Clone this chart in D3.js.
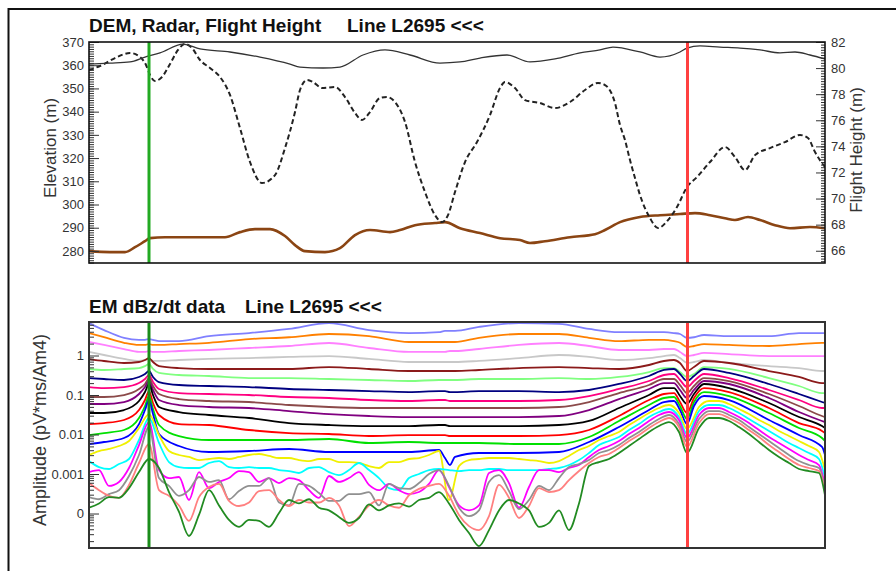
<!DOCTYPE html>
<html>
<head>
<meta charset="utf-8">
<script src="https://cdn.jsdelivr.net/npm/d3@7"></script>
<style>
  body { margin: 0; background: #fff; }
  svg { display: block; font-family: Arial, "Liberation Sans", sans-serif; }
</style>
</head>
<body>
<script>
// ---- Top panel data (fiducial along line, value) ----
const flightFid = [0,21,41,56,71,94,111,141,171,201,211,234,251,274,296,321,351,371,391,418,441,466,491,511,524,551,571,591,598,611,631,651,671,691,706,721,736];
const flightElev = [360.5,360.9,361.4,363.5,365.3,369.1,367.0,365.7,363.5,360.5,359.2,358.8,359.2,364.4,366.6,364.4,360.9,361.4,363.1,364.4,361.4,362.7,365.3,366.6,367.8,365.7,363.5,365.7,367.4,368.3,367.8,367.4,366.6,365.3,365.7,364.4,362.7];

const radarFid = [0,11,26,41,51,57,61,66,73,81,89,96,103,111,121,131,141,151,161,173,186,196,206,211,218,224,233,246,256,266,273,281,291,298,306,316,326,336,346,353,359,366,376,388,401,411,416,426,436,451,466,481,496,509,516,526,531,536,541,546,551,561,569,579,588,598,608,621,636,646,656,666,681,696,711,719,726,736];
const radarHeight = [79.85,80.16,80.77,81.16,80.85,80.24,79.47,79.01,79.32,80.31,81.39,81.85,81.54,80.62,80.01,79.32,77.94,75.40,72.80,71.19,71.80,73.87,76.63,78.32,79.09,78.93,78.47,78.55,77.78,76.56,76.02,76.63,77.71,77.78,77.40,75.87,72.80,70.50,68.73,68.20,68.73,70.50,72.80,74.33,76.40,78.47,78.93,78.47,77.55,77.32,76.94,77.40,78.32,78.86,78.70,77.32,75.64,74.48,72.95,71.57,70.27,68.50,67.74,68.35,69.35,70.88,71.65,72.80,73.95,73.18,72.18,73.33,73.87,74.33,74.87,74.64,73.56,72.41];

const demFid = [0,21,36,46,56,61,76,101,121,136,151,166,181,196,206,216,236,251,266,281,301,311,326,346,356,371,391,411,431,441,456,481,506,516,531,551,571,591,606,621,636,646,659,671,686,701,721,736];
const demElev = [279.9,279.5,279.5,281.6,284.2,285.5,285.9,285.9,285.9,285.9,288.1,289.4,289.4,286.4,282.5,279.9,279.5,281.2,286.8,289.0,288.1,289.0,291.1,292.0,292.4,289.8,287.7,285.5,284.7,283.4,284.2,285.9,287.2,289.0,292.4,294.6,295.4,295.9,296.3,295.4,294.1,293.3,294.6,293.3,291.1,289.8,290.3,289.8];

const elevTicks = [280, 290, 300, 310, 320, 330, 340, 350, 360, 370];
const flightTicks = [66, 68, 70, 72, 74, 76, 78, 80, 82];

// ---- Bottom panel data: dB/dt channels (early time at top) ----
const emFidCoarse = [0,15,35,50,56,60,64,70,90,120,160,200,240,280,320,350,356,361,366,390,430,470,500,530,560,575,585,591,598,605,615,640,680,710,733,736];
const emFidFine = [0,10,20,30,40,50,60,70,80,90,100,110,120,130,140,150,160,170,180,190,200,210,220,230,240,250,260,270,280,290,300,310,320,330,340,350,360,370,380,390,400,410,420,430,440,450,460,470,480,490,500,510,520,530,540,550,560,570,580,590,598,610,620,630,640,650,660,670,680,690,700,710,720,730,736];

const ch01 = [6.6,4.4,2.8,2.5,2.5,2.6,2.5,2.3,2.3,3.1,3.7,4.7,6.6,4.4,3.7,3.9,4.2,4.2,4.2,5.3,6.6,6.3,4.7,3.9,3.9,3.9,3.7,3.5,2.8,2.9,3.3,3.1,3.1,3.7,3.7,3.7];
const ch02 = [3.7,2.9,2.1,1.85,1.85,1.95,1.85,1.85,1.95,2.1,2.6,2.9,3.5,3.1,2.2,2.2,2.2,2.2,2.2,2.8,3.5,3.5,2.8,2.3,2.5,2.5,2.3,2.1,1.64,1.74,1.95,1.85,1.74,1.95,2.1,2.1];
const ch03 = [2.2,1.85,1.46,1.23,1.23,1.3,1.23,1.23,1.3,1.38,1.55,1.74,2.07,1.55,1.23,1.23,1.23,1.3,1.3,1.46,1.85,2.07,1.74,1.38,1.38,1.46,1.46,1.23,0.97,1.03,1.16,1.09,0.97,0.97,0.97,0.97];
const ch04 = [1.23,1.03,0.82,0.73,0.77,0.82,0.73,0.73,0.77,0.82,0.86,0.92,0.97,0.82,0.685,0.685,0.685,0.685,0.685,0.73,0.86,1.03,0.92,0.77,0.86,0.97,1.03,0.86,0.65,0.685,0.77,0.65,0.54,0.48,0.405,0.405];
const ch05 = [0.815,0.726,0.646,0.685,0.77,0.86,0.685,0.54,0.48,0.456,0.456,0.456,0.51,0.456,0.405,0.405,0.405,0.405,0.405,0.43,0.48,0.51,0.48,0.456,0.575,0.726,0.77,0.646,0.405,0.51,0.726,0.646,0.405,0.286,0.201,0.201];
const ch06 = [0.456,0.43,0.456,0.48,0.54,0.61,0.456,0.361,0.321,0.303,0.269,0.269,0.254,0.24,0.226,0.24,0.24,0.24,0.24,0.254,0.254,0.269,0.254,0.286,0.382,0.48,0.48,0.382,0.286,0.34,0.51,0.456,0.269,0.169,0.112,0.112];
const ch07 = [0.269,0.254,0.24,0.286,0.34,0.405,0.286,0.213,0.179,0.169,0.159,0.142,0.134,0.126,0.119,0.126,0.126,0.119,0.119,0.126,0.126,0.119,0.134,0.19,0.303,0.43,0.456,0.34,0.226,0.303,0.456,0.361,0.19,0.106,0.0665,0.0627];
const ch08 = [0.159,0.15,0.159,0.201,0.254,0.321,0.213,0.142,0.112,0.106,0.1,0.089,0.084,0.0747,0.0705,0.0747,0.0747,0.0705,0.0705,0.0705,0.0705,0.0747,0.0943,0.142,0.226,0.321,0.34,0.24,0.159,0.226,0.34,0.269,0.134,0.0747,0.0469,0.0469];
const ch09 = [0.089,0.089,0.1,0.142,0.19,0.269,0.169,0.106,0.079,0.0705,0.0665,0.0558,0.0497,0.0469,0.0469,0.0469,0.0469,0.0469,0.0469,0.0469,0.0469,0.0497,0.0665,0.112,0.179,0.254,0.254,0.179,0.112,0.169,0.269,0.226,0.106,0.0527,0.0294,0.0277];
const ch10 = [0.0592,0.0592,0.0665,0.106,0.159,0.226,0.134,0.0747,0.0558,0.0497,0.0469,0.0393,0.033,0.0294,0.0277,0.0277,0.0277,0.0277,0.0277,0.0277,0.0277,0.0294,0.0417,0.079,0.142,0.201,0.201,0.134,0.084,0.134,0.226,0.19,0.084,0.0371,0.022,0.0207];
const ch11 = [0.035,0.035,0.0417,0.0705,0.119,0.19,0.1,0.0497,0.0371,0.0312,0.0262,0.0195,0.0174,0.0164,0.0164,0.0174,0.0174,0.0164,0.0164,0.0164,0.0164,0.0174,0.022,0.0469,0.1,0.15,0.15,0.0943,0.0592,0.106,0.19,0.15,0.0627,0.0277,0.0164,0.0146];
const ch12 = [0.0184,0.0195,0.0233,0.0417,0.0747,0.126,0.0627,0.0312,0.0184,0.0174,0.013,0.0109,0.0103,0.00916,0.0097,0.0097,0.0097,0.00916,0.00916,0.00916,0.00916,0.0097,0.013,0.0294,0.0747,0.106,0.112,0.0665,0.035,0.084,0.15,0.119,0.0469,0.0195,0.0123,0.0109];
const ch13 = [0.0097,0.0109,0.013,0.0262,0.0527,0.0943,0.0442,0.0174,0.00916,0.00726,0.00726,0.00726,0.0077,0.0061,0.00646,0.0061,0.0061,0.0061,0.0061,0.0061,0.00575,0.00575,0.00865,0.022,0.0558,0.084,0.089,0.0527,0.0247,0.0665,0.119,0.0943,0.035,0.0146,0.00815,0.00685];
const ch14 = [0.00575,0.00646,0.00815,0.0184,0.0417,0.0747,0.033,0.0103,0.00511,0.00361,0.00382,0.0043,0.00361,0.00361,0.00361,0.00405,0.00254,0.00169,0.0027,0.0034,0.0034,0.00361,0.00646,0.0155,0.0417,0.0665,0.0705,0.0417,0.0184,0.0527,0.0943,0.0747,0.0233,0.0097,0.00483,0.00303];

const ch15 = [0.00303,0.00382,0.0043,0.00511,0.00685,0.0146,0.033,0.0097,0.00382,0.00303,0.0027,0.00226,0.0024,0.00254,0.0024,0.0027,0.00303,0.00321,0.00286,0.00254,0.00254,0.00226,0.00213,0.0024,0.0024,0.00201,0.00201,0.0019,0.00159,0.00142,0.00201,0.00201,0.0024,0.00254,0.00303,0.00382,0.00022,0.00159,0.00226,0.0024,0.00254,0.00254,0.00254,0.0024,0.00226,0.00213,0.0019,0.00213,0.00286,0.00405,0.00511,0.00726,0.00916,0.0116,0.0174,0.0247,0.035,0.0469,0.0558,0.035,0.0138,0.0497,0.0705,0.0705,0.0592,0.0442,0.033,0.0233,0.0174,0.0123,0.00916,0.00685,0.00511,0.00361,0.00126];
const ch16 = [0.00213,0.0015,0.00134,0.00179,0.0024,0.00726,0.0262,0.0061,0.00201,0.0015,0.00142,0.00142,0.0019,0.00213,0.0015,0.00142,0.0015,0.00142,0.00142,0.00126,0.00119,0.00106,0.00142,0.0015,0.00112,0.00094,0.00126,0.0019,0.00126,0.00079,0.00044,0.00039,0.00079,0.001,0.00126,0.00134,0.00126,0.00119,0.00126,0.00126,0.00134,0.00134,0.00126,0.00126,0.00126,0.00126,0.00134,0.00142,0.00169,0.00226,0.0034,0.00542,0.00685,0.00865,0.013,0.0184,0.0277,0.0371,0.0442,0.0277,0.0103,0.0393,0.0558,0.0558,0.0469,0.035,0.0247,0.0174,0.0123,0.00865,0.0061,0.00455,0.0034,0.0024,0.00079];
const ch17 = [0.00112,0.00126,0.0005,0.00063,0.00142,0.00542,0.0207,0.00126,0.00079,0.00084,0.00022,0.00112,0.00044,0.00063,0.00079,0.00119,0.00112,0.00063,0.00079,0.00059,0.00079,0.0007,0.00039,0.00025,0.00089,0.00063,0.00079,0.00112,0.00053,0.00039,0.00056,0.00039,0.00031,0.00035,0.00056,0.00126,0.00047,0.00016,0.00012,0.00016,0.00106,0.00126,0.00059,0.00014,0.00047,0.00126,0.00126,0.00112,0.00142,0.00169,0.0027,0.00405,0.00511,0.00685,0.0103,0.0146,0.022,0.0312,0.0371,0.0233,0.00815,0.0312,0.0469,0.0469,0.0371,0.0277,0.0195,0.013,0.00865,0.0061,0.0043,0.00303,0.00226,0.00169,0.00053];
const ch18 = [0.00026,0.00023,0.00031,0.00039,0.00089,0.00303,0.0155,0.00079,0.0005,0.00028,0.00039,0.00084,0.00063,0.0007,0.00023,0.00037,0.0005,0.0005,0.00079,0.00019,0.00016,0.00056,0.0005,0.00033,0.00021,0.00021,0.00031,0.00031,0.00035,0.00016,0.00056,0.00044,0.00042,0.00059,0.001,0.00126,0.0005,0.00014,0.000086,0.00012,0.00063,0.00094,0.00037,0.00013,0.00022,0.0005,0.00039,0.00079,0.0015,0.00179,0.00226,0.0034,0.00405,0.00542,0.00815,0.0116,0.0174,0.0247,0.0312,0.0184,0.00646,0.0247,0.0393,0.0393,0.0312,0.0233,0.0155,0.0103,0.00685,0.00455,0.00303,0.00213,0.00169,0.00142,0.00042];
const ch19 = [0.00059,0.00039,0.00028,0.00025,0.00053,0.0019,0.00575,0.00039,0.00028,0.00016,0.000065,0.00026,0.00047,0.00056,0.00021,0.000155,0.00019,0.00037,0.00039,0.00022,0.000155,0.00022,0.00019,0.00019,0.00025,0.00016,0.000048,0.000082,0.00016,0.00022,0.00016,0.00014,0.00029,0.00042,0.0005,0.00056,0.00028,0.000092,0.000048,0.000038,0.000086,0.00053,0.00025,0.000077,0.000155,0.00044,0.00035,0.00039,0.0007,0.00119,0.0019,0.0027,0.00321,0.00455,0.00685,0.0097,0.0146,0.0207,0.0262,0.0155,0.00483,0.0195,0.033,0.033,0.0262,0.0195,0.013,0.00865,0.00542,0.00361,0.0024,0.00169,0.00142,0.00119,0.00035];
const ch20 = [0.00014,0.00018,0.00026,0.00025,0.00044,0.00112,0.0024,0.00142,0.00035,0.00011,0.000027,0.000092,0.00039,0.00016,0.000069,0.000046,0.000069,0.000065,0.000046,0.000103,0.00022,0.00018,0.00023,0.00014,0.00012,0.000082,0.000058,0.000077,0.00017,0.00012,0.00016,0.00018,0.00015,0.00022,0.00025,0.00035,0.00018,0.000069,0.000032,0.000015,0.000038,0.00012,0.00022,0.00018,0.00012,0.000046,0.000058,0.00012,0.000038,0.00018,0.00159,0.00201,0.0024,0.0034,0.00511,0.0077,0.0116,0.0164,0.0207,0.0116,0.0034,0.0146,0.0262,0.0262,0.022,0.0155,0.0103,0.00646,0.00405,0.0027,0.0019,0.00134,0.00119,0.00106,0.00029];

const emCoarse = [ch01, ch02, ch03, ch04, ch05, ch06, ch07, ch08, ch09, ch10, ch11, ch12, ch13, ch14];
const emFine = [ch15, ch16, ch17, ch18, ch19, ch20];
const emColors = ["#8080ff","#ff8000","#ff80ff","#c8c8c8","#8b1a1a","#80ff80","#000080","#ff0080","#8b4a4a","#800080",
                  "#000000","#ff0000","#00e000","#0000ff","#f0f000","#00ffff","#ff00ff","#909090","#ff8080","#228b22"];

const ampTicks = [1, 0.1, 0.01, 0.001, 0.0001];
const ampTickLabels = ["1", "0.1", "0.01", "0.001", "0"];

// markers on the profile
const greenFid = 60;
const redFid = 598.5;

// ---- layout ----
const w = 896, h = 571;
const left = 89, right = 825;
const top1 = 42, bot1 = 263;
const top2 = 322, bot2 = 548;

const svg = d3.select("body").append("svg").attr("width", w).attr("height", h);

// outer frame (only top and left visible in the window)
svg.append("path").attr("d", "M8.5,571 V9 H896").attr("fill", "none").attr("stroke", "#111").attr("stroke-width", 2);

const xScale = d3.scaleLinear().domain([0, 736]).range([left, right]);
const yElev = d3.scaleLinear().domain([274.8, 370]).range([bot1, top1]);
const yFlight = d3.scaleLinear().domain([65.06, 82]).range([bot1, top1]);
const yAmp = d3.scaleLog().domain([1.34e-5, 7.05]).range([bot2, top2]);

const defs = svg.append("defs");
defs.append("clipPath").attr("id", "clipTop").append("rect")
    .attr("x", left).attr("y", top1).attr("width", right - left).attr("height", bot1 - top1);
defs.append("clipPath").attr("id", "clipBot").append("rect")
    .attr("x", left).attr("y", top2).attr("width", right - left).attr("height", bot2 - top2);

// ================= TOP PANEL =================
svg.append("text").attr("x", left).attr("y", 32)
   .attr("font-size", 19).attr("font-weight", "bold").attr("fill", "#111")
   .text("DEM, Radar, Flight Height");
svg.append("text").attr("x", 347).attr("y", 32)
   .attr("font-size", 19).attr("font-weight", "bold").attr("fill", "#111")
   .text("Line L2695 <<<");

const gTop = svg.append("g").attr("clip-path", "url(#clipTop)");

const lineElev = (fids, vals) => d3.line().curve(d3.curveMonotoneX)
    .x((d, i) => xScale(fids[i])).y(d => yElev(d))(vals);
const lineFlight = (fids, vals) => d3.line().curve(d3.curveMonotoneX)
    .x((d, i) => xScale(fids[i])).y(d => yFlight(d))(vals);

gTop.append("path").attr("d", lineElev(demFid, demElev))
    .attr("fill", "none").attr("stroke", "#8b4513").attr("stroke-width", 2.6);
gTop.append("path").attr("d", lineFlight(radarFid, radarHeight))
    .attr("fill", "none").attr("stroke", "#222").attr("stroke-width", 2).attr("stroke-dasharray", "5,3");
gTop.append("path").attr("d", lineElev(flightFid, flightElev))
    .attr("fill", "none").attr("stroke", "#333").attr("stroke-width", 1.3);

gTop.append("line").attr("x1", xScale(greenFid)).attr("x2", xScale(greenFid)).attr("y1", top1).attr("y2", bot1)
    .attr("stroke", "#22aa22").attr("stroke-width", 3);
gTop.append("line").attr("x1", xScale(redFid)).attr("x2", xScale(redFid)).attr("y1", top1).attr("y2", bot1)
    .attr("stroke", "#ff4040").attr("stroke-width", 3);

// left axis (elevation), ticks pointing inward
svg.append("g").attr("transform", `translate(${left},0)`)
    .call(d3.axisLeft(yElev).tickValues(elevTicks).tickSize(-10).tickPadding(5));
svg.append("g").attr("transform", `translate(${left},0)`)
    .call(d3.axisLeft(yElev).tickValues(d3.range(275, 371, 1)).tickSize(-5).tickFormat(""));

// right axis (flight height)
svg.append("g").attr("transform", `translate(${right},0)`)
    .call(d3.axisRight(yFlight).tickValues(flightTicks).tickSize(-9).tickPadding(6));
svg.append("g").attr("transform", `translate(${right},0)`)
    .call(d3.axisRight(yFlight).tickValues(d3.range(65.2, 82.01, 0.2)).tickSize(-4).tickFormat(""));

svg.append("rect").attr("x", left).attr("y", top1).attr("width", right - left).attr("height", bot1 - top1)
   .attr("fill", "none").attr("stroke", "#111").attr("stroke-width", 1.6);

svg.append("text").attr("transform", "translate(56,148) rotate(-90)")
   .attr("text-anchor", "middle").attr("font-size", 17).attr("fill", "#333").text("Elevation (m)");
svg.append("text").attr("transform", "translate(862,150) rotate(-90)")
   .attr("text-anchor", "middle").attr("font-size", 17).attr("fill", "#333").text("Flight Height (m)");

// ================= BOTTOM PANEL =================
svg.append("text").attr("x", left).attr("y", 313)
   .attr("font-size", 19).attr("font-weight", "bold").attr("fill", "#111")
   .text("EM dBz/dt data");
svg.append("text").attr("x", 245).attr("y", 313)
   .attr("font-size", 19).attr("font-weight", "bold").attr("fill", "#111")
   .text("Line L2695 <<<");

const gBot = svg.append("g").attr("clip-path", "url(#clipBot)");
const lineAmp = fids => d3.line().curve(d3.curveMonotoneX)
    .x((d, i) => xScale(fids[i])).y(d => yAmp(d));

emCoarse.forEach((vals, k) => {
  gBot.append("path").attr("d", lineAmp(emFidCoarse)(vals))
      .attr("fill", "none").attr("stroke", emColors[k]).attr("stroke-width", 1.8);
});
emFine.forEach((vals, k) => {
  gBot.append("path").attr("d", lineAmp(emFidFine)(vals))
      .attr("fill", "none").attr("stroke", emColors[14 + k]).attr("stroke-width", 1.8);
});

gBot.append("line").attr("x1", xScale(greenFid)).attr("x2", xScale(greenFid)).attr("y1", top2).attr("y2", bot2)
    .attr("stroke", "#1a8c1a").attr("stroke-width", 3);
gBot.append("line").attr("x1", xScale(redFid)).attr("x2", xScale(redFid)).attr("y1", top2).attr("y2", bot2)
    .attr("stroke", "#ff4040").attr("stroke-width", 3);

// log axis: majors with labels, minors 2..9
const minorAmp = [];
for (let e = -5; e <= 0; e++) {
  for (let m = 2; m <= 9; m++) {
    const v = m * Math.pow(10, e);
    if (v > 1.34e-5 && v < 7.05) minorAmp.push(v);
  }
}
svg.append("g").attr("transform", `translate(${left},0)`)
    .call(d3.axisLeft(yAmp).tickValues(ampTicks).tickSize(-10).tickPadding(5)
      .tickFormat((d, i) => ampTickLabels[i]));
svg.append("g").attr("transform", `translate(${left},0)`)
    .call(d3.axisLeft(yAmp).tickValues(minorAmp).tickSize(-5).tickFormat(""));

svg.append("rect").attr("x", left).attr("y", top2).attr("width", right - left).attr("height", bot2 - top2)
   .attr("fill", "none").attr("stroke", "#333").attr("stroke-width", 2);

svg.append("text").attr("transform", "translate(46,430) rotate(-90)")
   .attr("text-anchor", "middle").attr("font-size", 18).attr("fill", "#333").text("Amplitude (pV*ms/Am4)");

// common axis styling
svg.selectAll(".domain").remove();
svg.selectAll(".tick line").attr("stroke", "#333");
svg.selectAll(".tick text").attr("font-size", 13).attr("fill", "#333")
   .attr("font-family", "Arial, 'Liberation Sans', sans-serif");
</script>
</body>
</html>
